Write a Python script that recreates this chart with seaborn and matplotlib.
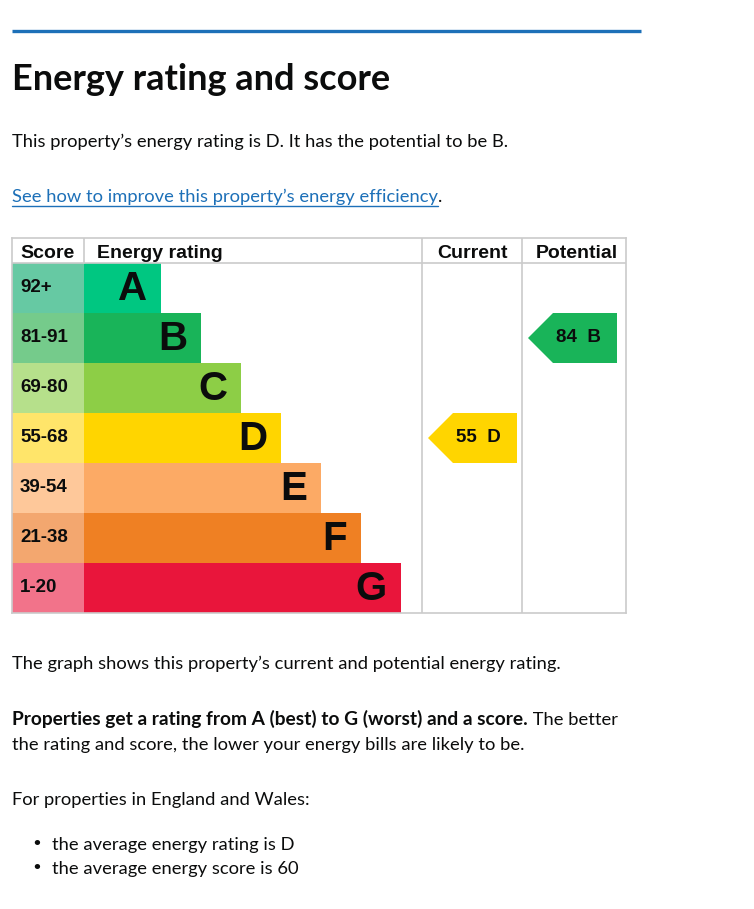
import matplotlib
matplotlib.use("Agg")
import matplotlib.pyplot as plt
from matplotlib.patches import Polygon
import seaborn as sns
import pandas as pd

# data
bands = ["A", "B", "C", "D", "E", "F", "G"]
score_ranges = ["92+", "81-91", "69-80", "55-68", "39-54", "21-38", "1-20"]
bar_len = [77, 117, 157, 197, 237, 277, 317]
band_colors = ["#00c781", "#19b459", "#8dce46", "#ffd500", "#fcaa65", "#ef8023", "#e9153b"]
score_colors = ["#66c9a3", "#75cb8b", "#b6e08b", "#ffe56a", "#fec89a", "#f3a76f", "#f2738a"]
current_score, current_band = 55, "D"
potential_score, potential_band = 84, "B"

W, H = 754, 909
BODY = "Lato"
LABEL = "Liberation Sans"
BLUE = "#1d70b8"
GRID = "#cbcbcb"
FS = 13.2

sns.set_theme(style="white")
fig = plt.figure(figsize=(W / 100, H / 100), dpi=100)

# page axes in pixel units for the surrounding text
page = fig.add_axes([0, 0, 1, 1])
page.set_xlim(0, W)
page.set_ylim(H, 0)
page.axis("off")

page.plot([12, 641], [31, 31], color=BLUE, lw=2.4, solid_capstyle="butt")
page.text(12, 90, "Energy rating and score", fontsize=26, fontweight="bold",
          family=BODY, color="#0b0c0c", va="baseline")
page.text(12, 147, "This property\u2019s energy rating is D. It has the potential to be B.",
          fontsize=FS, family=BODY, color="#0b0c0c", va="baseline")
link = page.text(12, 202, "See how to improve this property\u2019s energy efficiency",
                 fontsize=FS, family=BODY, color=BLUE, va="baseline")

page.text(12, 669, "The graph shows this property\u2019s current and potential energy rating.",
          fontsize=FS, family=BODY, color="#0b0c0c", va="baseline")
bold = page.text(12, 725, "Properties get a rating from A (best) to G (worst) and a score.",
                 fontsize=13.8, family=BODY, fontweight="bold", color="#0b0c0c", va="baseline")
page.text(12, 750, "the rating and score, the lower your energy bills are likely to be.",
          fontsize=FS, family=BODY, color="#0b0c0c", va="baseline")
page.text(12, 805, "For properties in England and Wales:",
          fontsize=FS, family=BODY, color="#0b0c0c", va="baseline")
for yb, line in [(850, "the average energy rating is D"), (874, "the average energy score is 60")]:
    page.text(37, yb - 6, "\u2022", fontsize=FS, family="DejaVu Sans", color="#0b0c0c",
              va="center", ha="center")
    page.text(52, yb, line, fontsize=FS, family=BODY, color="#0b0c0c", va="baseline")

fig.canvas.draw()
inv = page.transData.inverted()
lb = inv.transform(link.get_window_extent().get_points())
page.plot([lb[0][0], lb[1][0]], [206, 206], color=BLUE, lw=1.0)
page.text(lb[1][0], 202, ".", fontsize=FS, family=BODY, color="#0b0c0c", va="baseline")
bb = inv.transform(bold.get_window_extent().get_points())
page.text(bb[1][0], 725, " The better", fontsize=FS, family=BODY,
          color="#0b0c0c", va="baseline")

# chart axes: x in pixels measured from the left edge of the bars, y in rows
ax = fig.add_axes([12 / W, 1 - 613 / H, 614 / W, 375 / H])
df = pd.DataFrame({"band": bands, "len": bar_len})
sns.barplot(data=df, y="band", x="len", hue="band", palette=band_colors, orient="h",
            width=1.0, saturation=1, legend=False, linewidth=0, ax=ax)
ax.barh(range(len(bands)), [72] * len(bands), left=-72, height=1.0,
        color=score_colors, linewidth=0)

ax.set_xlim(-72, 542)
ax.set_ylim(6.5, -1.0)
ax.set_xticks([])
ax.set_yticks([])
ax.set_xlabel("")
ax.set_ylabel("")
for s in ax.spines.values():
    s.set_color(GRID)
    s.set_linewidth(1.2)
ax.axhline(-0.5, color=GRID, lw=1.2)
ax.plot([0, 0], [-1.0, -0.5], color=GRID, lw=1.2)
for xv in [338, 438]:
    ax.axvline(xv, color=GRID, lw=1.2)

hdr = dict(fontsize=14, fontweight="bold", family=LABEL, color="#0b0c0c", va="center")
ax.text(-64, -0.7, "Score", ha="left", **hdr)
ax.text(13, -0.7, "Energy rating", ha="left", **hdr)
ax.text(388, -0.7, "Current", ha="center", **hdr)
ax.text(493, -0.7, "Potential", ha="center", **hdr)

for i, (b, sr, ln) in enumerate(zip(bands, score_ranges, bar_len)):
    ax.text(-64, i, sr, fontsize=13.5, fontweight="bold", family=LABEL,
            color="#0b0c0c", va="center", ha="left")
    ax.text(ln - 14, i + 0.02, b, fontsize=29, fontweight="bold", family=LABEL,
            color="#0b0c0c", va="center", ha="right")


def arrow(col_left, score, band):
    i = bands.index(band)
    tip = col_left + 6
    body = tip + 25
    right = tip + 89
    pts = [(tip, i), (body, i - 0.5), (right, i - 0.5), (right, i + 0.5), (body, i + 0.5)]
    ax.add_patch(Polygon(pts, closed=True, color=band_colors[i], lw=0))
    ax.text(tip + 28, i, f"{score}  {band}", fontsize=13.5, fontweight="bold",
            family=LABEL, color="#0b0c0c", va="center", ha="left")


arrow(338, current_score, current_band)
arrow(438, potential_score, potential_band)

fig.savefig("out.png", dpi=100)
